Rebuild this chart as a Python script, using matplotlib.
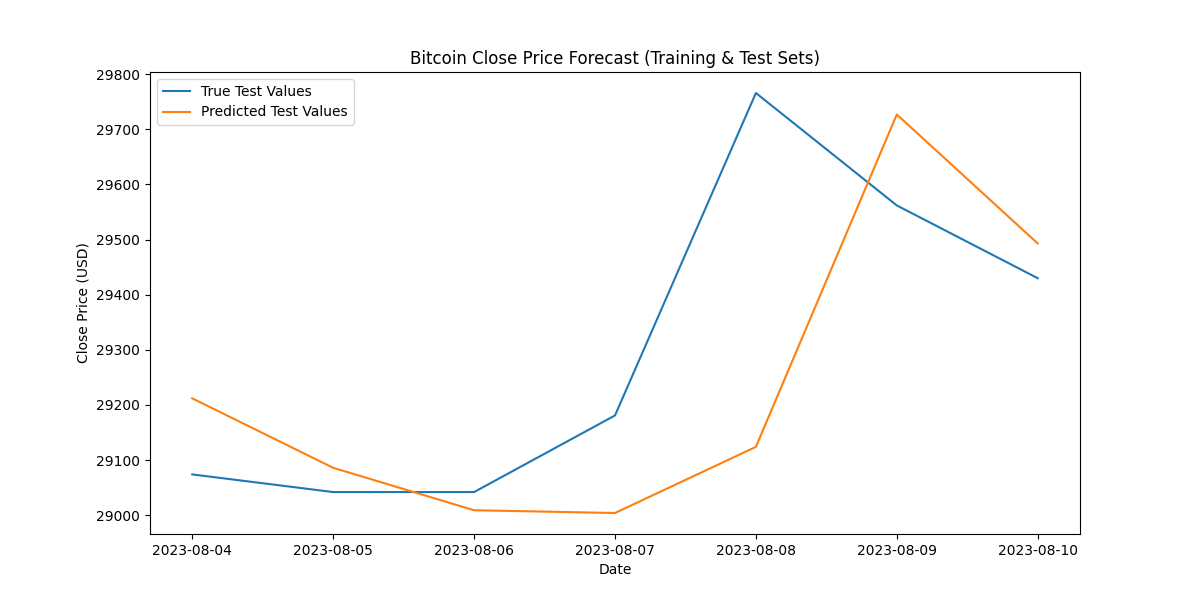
import matplotlib
matplotlib.use("Agg")
import matplotlib.pyplot as plt
import pandas as pd

dates = ["2023-08-04", "2023-08-05", "2023-08-06", "2023-08-07",
         "2023-08-08", "2023-08-09", "2023-08-10"]
true_values = [29074, 29042, 29042, 29181, 29766, 29562, 29430]
predicted_values = [29212, 29086, 29009, 29004, 29124, 29727, 29493]

x = pd.to_datetime(dates)

fig, ax = plt.subplots(figsize=(12, 6), dpi=100)
ax.plot(x, true_values, label="True Test Values")
ax.plot(x, predicted_values, label="Predicted Test Values")
ax.set_xticks(x)
ax.set_xticklabels(dates)
ax.set_title("Bitcoin Close Price Forecast (Training & Test Sets)")
ax.set_xlabel("Date")
ax.set_ylabel("Close Price (USD)")
ax.legend(loc="upper left")

fig.savefig("out.png")
